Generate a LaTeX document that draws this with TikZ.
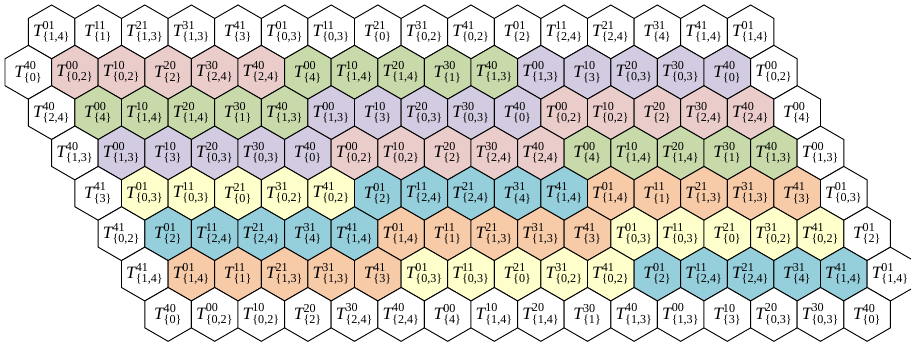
\documentclass[tikz,border=0pt]{standalone}
\usepackage{amsmath}
\usepackage{fontspec}
\setmainfont{Liberation Serif}
\usepackage{tikz}
\definecolor{hexw}{HTML}{FFFFFF}
\definecolor{hexp}{HTML}{EACCCB}
\definecolor{hexg}{HTML}{C8DAAA}
\definecolor{hexv}{HTML}{D3CBE1}
\definecolor{hexy}{HTML}{FFFFCC}
\definecolor{hexb}{HTML}{96CFDC}
\definecolor{hexo}{HTML}{F8CBA8}
\newcommand{\tlab}[2]{$\textit{T}^{\text{#1}}_{\text{\{#2\}}}$}
% one hexagon cell (pointy top) with its label
\newcommand{\hexcell}[5]{%
  \filldraw[hexline,fill=hex#3] (#1,#2) +(90:26.9) -- +(30:26.9) -- +(-30:26.9) -- +(-90:26.9) -- +(-150:26.9) -- +(150:26.9) -- cycle;
  \node[hexlab] (#4) at (#1,#2) {#5};}

\begin{document}
\begin{tikzpicture}[x=0.75pt,y=-0.75pt,
  hexline/.style={draw=black,line width=0.7pt,line join=miter},
  hexlab/.style={inner sep=0pt,font=\fontsize{13}{15}\selectfont}]
  \useasboundingbox (0,0) rectangle (911,342);
  % top row
  \foreach \sp/\sb/\c [count=\i from 0] in {01/{1,4}/w,11/1/w,21/{1,3}/w,31/{1,3}/w,41/3/w,01/{0,3}/w,11/{0,3}/w,21/0/w,31/{0,2}/w,41/{0,2}/w,01/2/w,11/{2,4}/w,21/{2,4}/w,31/4/w,41/{1,4}/w,01/{1,4}/w}
    {\hexcell{51.6+\i*46.6}{31.9}{\c}{r0-\i}{\tlab{\sp}{\sb}}}
  \foreach \sp/\sb/\c [count=\i from 0] in {40/0/w,00/{0,2}/p,10/{0,2}/p,20/2/p,30/{2,4}/p,40/{2,4}/p,00/4/g,10/{1,4}/g,20/{1,4}/g,30/1/g,40/{1,3}/g,00/{1,3}/v,10/3/v,20/{0,3}/v,30/{0,3}/v,40/0/v,00/{0,2}/w}
    {\hexcell{28.3+\i*46.6}{72.26}{\c}{r1-\i}{\tlab{\sp}{\sb}}}
  \foreach \sp/\sb/\c [count=\i from 0] in {40/{2,4}/w,00/4/g,10/{1,4}/g,20/{1,4}/g,30/1/g,40/{1,3}/g,00/{1,3}/v,10/3/v,20/{0,3}/v,30/{0,3}/v,40/0/v,00/{0,2}/p,10/{0,2}/p,20/2/p,30/{2,4}/p,40/{2,4}/p,00/4/w}
    {\hexcell{51.6+\i*46.6}{112.62}{\c}{r2-\i}{\tlab{\sp}{\sb}}}
  \foreach \sp/\sb/\c [count=\i from 0] in {40/{1,3}/w,00/{1,3}/v,10/3/v,20/{0,3}/v,30/{0,3}/v,40/0/v,00/{0,2}/p,10/{0,2}/p,20/2/p,30/{2,4}/p,40/{2,4}/p,00/4/g,10/{1,4}/g,20/{1,4}/g,30/1/g,40/{1,3}/g,00/{1,3}/w}
    {\hexcell{74.9+\i*46.6}{152.98}{\c}{r3-\i}{\tlab{\sp}{\sb}}}
  \foreach \sp/\sb/\c [count=\i from 0] in {41/3/w,01/{0,3}/y,11/{0,3}/y,21/0/y,31/{0,2}/y,41/{0,2}/y,01/2/b,11/{2,4}/b,21/{2,4}/b,31/4/b,41/{1,4}/b,01/{1,4}/o,11/1/o,21/{1,3}/o,31/{1,3}/o,41/3/o,01/{0,3}/w}
    {\hexcell{98.2+\i*46.6}{193.34}{\c}{r4-\i}{\tlab{\sp}{\sb}}}
  \foreach \sp/\sb/\c [count=\i from 0] in {41/{0,2}/w,01/2/b,11/{2,4}/b,21/{2,4}/b,31/4/b,41/{1,4}/b,01/{1,4}/o,11/1/o,21/{1,3}/o,31/{1,3}/o,41/3/o,01/{0,3}/y,11/{0,3}/y,21/0/y,31/{0,2}/y,41/{0,2}/y,01/2/w}
    {\hexcell{121.5+\i*46.6}{233.7}{\c}{r5-\i}{\tlab{\sp}{\sb}}}
  \foreach \sp/\sb/\c [count=\i from 0] in {41/{1,4}/w,01/{1,4}/o,11/1/o,21/{1,3}/o,31/{1,3}/o,41/3/o,01/{0,3}/y,11/{0,3}/y,21/0/y,31/{0,2}/y,41/{0,2}/y,01/2/b,11/{2,4}/b,21/{2,4}/b,31/4/b,41/{1,4}/b,01/{1,4}/w}
    {\hexcell{144.8+\i*46.6}{274.06}{\c}{r6-\i}{\tlab{\sp}{\sb}}}
  % bottom row
  \foreach \sp/\sb/\c [count=\i from 0] in {40/0/w,00/{0,2}/w,10/{0,2}/w,20/2/w,30/{2,4}/w,40/{2,4}/w,00/4/w,10/{1,4}/w,20/{1,4}/w,30/1/w,40/{1,3}/w,00/{1,3}/w,10/3/w,20/{0,3}/w,30/{0,3}/w,40/0/w}
    {\hexcell{168.1+\i*46.6}{314.42}{\c}{r7-\i}{\tlab{\sp}{\sb}}}
\end{tikzpicture}
\end{document}
